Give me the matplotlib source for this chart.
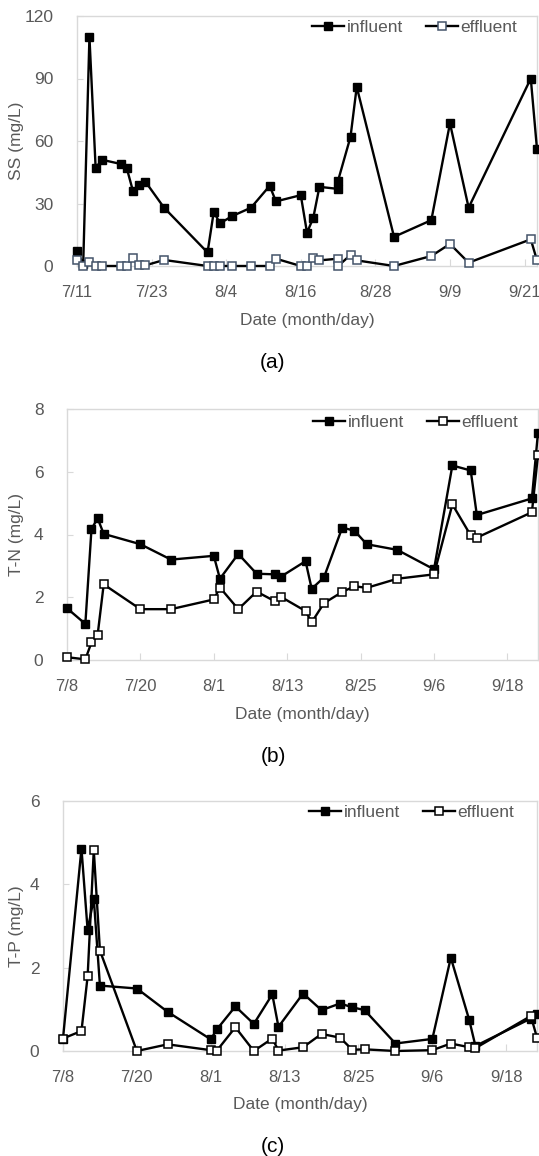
import matplotlib
matplotlib.use('Agg')
import matplotlib.pyplot as plt
import pandas as pd

plt.rcParams['font.family'] = ['Liberation Sans', 'DejaVu Sans']

# (a) suspended solids
ss_dates = ['7/11', '7/12', '7/13', '7/14', '7/15', '7/18', '7/19', '7/20', '7/21', '7/22',
            '7/25', '8/1', '8/2', '8/3', '8/5', '8/8', '8/11', '8/12', '8/16', '8/17',
            '8/18', '8/19', '8/22', '8/22', '8/24', '8/25', '8/31', '9/6', '9/9', '9/12',
            '9/22', '9/23']
ss_in = [7, 1, 110, 47, 51, 49, 47, 36, 39, 40.5,
         28, 6.5, 26, 20.5, 24, 28, 38.5, 31, 34, 16,
         23, 38, 37, 41, 62, 86, 14, 22, 68.5, 28,
         90, 56]
ss_out = [2.7, 0, 1.8, 0, 0, 0, 0, 3.7, 0.3, 0.3,
          2.9, 0, 0, 0, 0, 0, 0, 3.5, 0, 0,
          3.7, 2.7, 3.5, 0, 5.3, 2.7, 0, 4.8, 10.6, 1.6,
          12.8, 2.7]
ss_ticks = ['7/11', '7/23', '8/4', '8/16', '8/28', '9/9', '9/21']

# (b) total nitrogen
tn_dates = ['7/8', '7/11', '7/12', '7/13', '7/14', '7/20', '7/25', '8/1', '8/2', '8/5',
            '8/8', '8/11', '8/12', '8/16', '8/17', '8/19', '8/22', '8/24', '8/26', '8/31',
            '9/6', '9/9', '9/12', '9/13', '9/22', '9/23']
tn_in = [1.65, 1.15, 4.17, 4.52, 4.02, 3.69, 3.2, 3.32, 2.59, 3.38,
         2.75, 2.73, 2.66, 3.15, 2.27, 2.63, 4.22, 4.12, 3.69, 3.51,
         2.89, 6.2, 6.04, 4.62, 5.15, 7.25]
tn_out = [0.09, 0.02, 0.56, 0.79, 2.41, 1.62, 1.62, 1.93, 2.31, 1.62,
          2.18, 1.87, 2.01, 1.56, 1.2, 1.81, 2.17, 2.35, 2.3, 2.59,
          2.73, 4.96, 3.97, 3.9, 4.71, 6.54]

# (c) total phosphorus
tp_dates = ['7/8', '7/11', '7/12', '7/13', '7/14', '7/20', '7/25', '8/1', '8/2', '8/5',
            '8/8', '8/11', '8/12', '8/16', '8/19', '8/22', '8/24', '8/26', '8/31',
            '9/6', '9/9', '9/12', '9/13', '9/22', '9/23']
tp_in = [0.3, 4.86, 2.9, 3.66, 1.57, 1.5, 0.94, 0.28, 0.52, 1.07,
         0.65, 1.36, 0.58, 1.38, 0.98, 1.14, 1.05, 0.98, 0.18,
         0.29, 2.24, 0.74, 0.12, 0.78, 0.9]
tp_out = [0.3, 0.48, 1.79, 4.82, 2.41, 0, 0.16, 0.02, 0.01, 0.57,
          0, 0.3, 0.01, 0.09, 0.41, 0.32, 0.03, 0.04, 0,
          0.02, 0.18, 0.09, 0.07, 0.84, 0.32]
tn_ticks = ['7/8', '7/20', '8/1', '8/13', '8/25', '9/6', '9/18']

GRAY = '#595959'
SPINE = '#D9D9D9'
W, H = 539, 1156


def to_dt(labels):
    return pd.to_datetime(['2015/' + s for s in labels], format='%Y/%m/%d')


def panel(box, dates, y_in, y_out, ticks, xmax, ymax, ystep, ylabel, tag, eff_edge, leg_x, leg_y):
    left, top, right, bottom = box
    ax = fig.add_axes([left / W, 1 - bottom / H, (right - left) / W, (bottom - top) / H])
    x = to_dt(dates)
    ax.plot(x, y_in, color='black', lw=1.7, marker='s', ms=5.6, mfc='black', mec='black',
            label='influent', clip_on=False, zorder=3)
    ax.plot(x, y_out, color='black', lw=1.7, marker='s', ms=5.6, mfc='white', mec=eff_edge,
            mew=1.1, label='effluent', clip_on=False, zorder=4)
    tk = to_dt(ticks)
    ax.set_xlim(tk[0], to_dt([xmax])[0])
    ax.set_xticks(tk)
    ax.set_xticklabels(ticks)
    ax.set_ylim(0, ymax)
    ax.set_yticks(range(0, ymax + 1, ystep))
    for s in ax.spines.values():
        s.set_color(SPINE)
        s.set_linewidth(1.0)
    ax.tick_params(axis='x', direction='in', length=5, color=SPINE, labelcolor=GRAY,
                   labelsize=12, pad=13.5)
    ax.tick_params(axis='y', direction='in', length=4, color=SPINE, labelcolor=GRAY,
                   labelsize=12.5, pad=17)
    ax.legend(loc='upper right', bbox_to_anchor=((leg_x - left) / (right - left), 1 - leg_y / (bottom - top)),
              ncol=2, frameon=False, fontsize=12.5, labelcolor=GRAY, handlelength=1.85,
              handletextpad=0.15, columnspacing=1.3, borderpad=0, borderaxespad=0)
    cx = (left + right) / 2
    fig.text(17 / W, 1 - (top + bottom) / 2 / H, ylabel, rotation=90, ha='center', va='center',
             color=GRAY, fontsize=12.5)
    fig.text(cx / W, 1 - (bottom + 54) / H, 'Date (month/day)', ha='center', va='center',
             color=GRAY, fontsize=12.5)
    fig.text(273 / W, 1 - (bottom + 96) / H, tag, ha='center', va='center',
             color='black', fontsize=15)
    return ax


fig = plt.figure(figsize=(W / 100, H / 100), dpi=100)

panel((77, 16, 537, 266), ss_dates, ss_in, ss_out, ss_ticks, '9/23', 120, 30,
      'SS (mg/L)', '(a)', '#44546A', 517, 4)
panel((67, 409, 538, 660), tn_dates, tn_in, tn_out, tn_ticks, '9/23', 8, 2,
      'T-N (mg/L)', '(b)', 'black', 518, 6)
panel((63, 801, 537, 1051), tp_dates, tp_in, tp_out, tn_ticks, '9/23', 6, 2,
      'T-P (mg/L)', '(c)', 'black', 514, 4)

fig.savefig('out.png', dpi=100)
